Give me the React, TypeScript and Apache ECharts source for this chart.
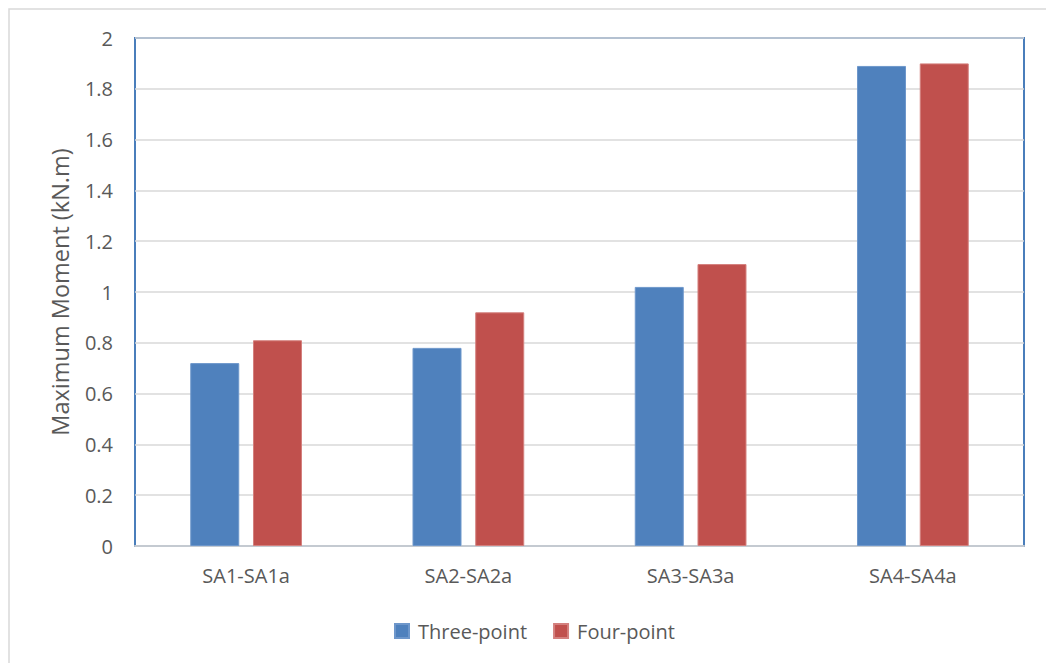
import React, { useEffect, useRef } from "react";
import * as echarts from "echarts";

const categories = ["SA1-SA1a", "SA2-SA2a", "SA3-SA3a", "SA4-SA4a"];
const threePoint = [0.72, 0.78, 1.02, 1.89];
const fourPoint = [0.81, 0.92, 1.11, 1.9];
const yTickLabels = ["0", "0.2", "0.4", "0.6", "0.8", "1", "1.2", "1.4", "1.6", "1.8", "2"];
const seriesNames = ["Three-point", "Four-point"];
const yTitle = "Maximum Moment (kN.m)";

const FONT = "'Open Sans', 'Liberation Sans', sans-serif";
const TXT = "#595959";

export default function App() {
  const ref = useRef<HTMLDivElement>(null);
  useEffect(() => {
    if (!ref.current) return;
    const chart = echarts.init(ref.current, undefined, { renderer: "svg" });
    chart.setOption({
      animation: false,
      backgroundColor: "#ffffff",
      textStyle: { fontFamily: FONT },
      graphic: [
        {
          type: "polyline",
          shape: { points: [[9, 700], [9, 9], [1100, 9]] },
          style: { stroke: "#d9d9d9", lineWidth: 1.5, fill: "none" },
          silent: true,
        },
      ],
      legend: {
        left: 389,
        top: 616,
        itemWidth: 14,
        itemHeight: 14,
        itemGap: 26,
        icon: "rect",
        textStyle: { color: TXT, fontSize: 20, fontFamily: FONT, padding: [0, 0, 0, 4] },
        data: seriesNames,
      },
      grid: {
        left: 135,
        right: 22,
        top: 38,
        bottom: 117,
        show: true,
        borderColor: "#4a7ebb",
        borderWidth: 2,
        containLabel: false,
      },
      xAxis: {
        type: "category",
        data: categories,
        axisLine: { show: true, lineStyle: { color: "#c4cad1", width: 2 } },
        axisTick: { show: false },
        axisLabel: { color: TXT, fontSize: 20, fontFamily: FONT, margin: 19 },
      },
      yAxis: {
        type: "value",
        min: 0,
        max: 2,
        interval: 0.2,
        name: yTitle,
        nameLocation: "middle",
        nameGap: 63,
        nameTextStyle: { color: TXT, fontSize: 23.5, fontFamily: FONT },
        axisLine: { show: false },
        axisTick: { show: false },
        splitLine: { lineStyle: { color: "#d9d9d9", width: 1.5 } },
        axisLabel: {
          color: TXT,
          fontSize: 20,
          fontFamily: FONT,
          margin: 22,
          formatter: (v: number) => yTickLabels[Math.round(v / 0.2)] ?? String(v),
        },
      },
      series: [
        {
          name: seriesNames[0],
          type: "bar",
          data: threePoint,
          barWidth: 49,
          barGap: "28%",
          itemStyle: { color: "#4f81bd", borderColor: "#6e97cb", borderWidth: 1 },
        },
        {
          name: seriesNames[1],
          type: "bar",
          data: fourPoint,
          barWidth: 49,
          barGap: "28%",
          itemStyle: { color: "#c0504d", borderColor: "#d4807e", borderWidth: 1 },
        },
      ],
    });
    return () => chart.dispose();
  }, []);
  return (
    <div
      ref={ref}
      style={{ position: "absolute", left: 0, top: 0, width: 1046, height: 663 }}
    />
  );
}
